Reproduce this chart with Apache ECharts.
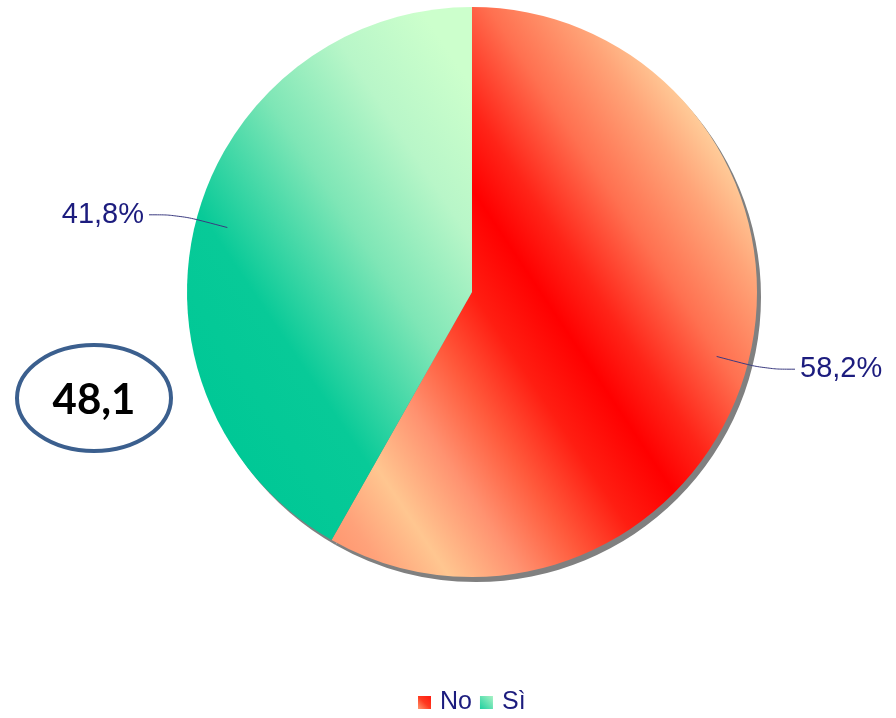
<!DOCTYPE html>
<html>
<head>
<meta charset="utf-8">
<script src="https://cdn.jsdelivr.net/npm/echarts@6/dist/echarts.min.js"></script>
<style>
  html, body { margin: 0; padding: 0; background: #ffffff; }
  #chart { width: 896px; height: 718px; }
</style>
</head>
<body>
<div id="chart"></div>
<script>
// Survey answers and their shares (percent)
const categories = ['No', 'Sì'];
const shares = [58.2, 41.8];
const badgeText = '48,1';

// Pie geometry
const CX = 472, CY = 292, R = 285;
const LABEL_R = 253;

// Diagonal gradient axis running from lower-left to upper-right of the disc
const DX = 0.832, DY = -0.555;
function discGradient(stops) {
  return new echarts.graphic.LinearGradient(
    CX - R * DX, CY - R * DY, CX + R * DX, CY + R * DY,
    stops, true
  );
}

const noFill = discGradient([
  { offset: 0.00, color: '#ff8c66' },
  { offset: 0.10, color: '#ffa27a' },
  { offset: 0.19, color: '#ffc690' },
  { offset: 0.30, color: '#ff9270' },
  { offset: 0.40, color: '#ff5a3c' },
  { offset: 0.50, color: '#ff1e12' },
  { offset: 0.60, color: '#ff0000' },
  { offset: 0.68, color: '#ff2418' },
  { offset: 0.80, color: '#ff7050' },
  { offset: 0.92, color: '#ffa478' },
  { offset: 1.00, color: '#ffcc99' }
]);
const siFill = discGradient([
  { offset: 0.00, color: '#00c896' },
  { offset: 0.18, color: '#08ca98' },
  { offset: 0.39, color: '#7ee6b6' },
  { offset: 0.55, color: '#b8f6c8' },
  { offset: 0.70, color: '#ccffcc' },
  { offset: 1.00, color: '#ccffcc' }
]);
const sliceFills = [noFill, siFill];

// Small swatches for the legend
const legendFills = [
  new echarts.graphic.LinearGradient(1, 0, 0, 1, [
    { offset: 0, color: '#ff1a10' }, { offset: 0.5, color: '#ff3a20' }, { offset: 1, color: '#ff9a70' }
  ]),
  new echarts.graphic.LinearGradient(1, 0, 0, 1, [
    { offset: 0, color: '#a8f2c4' }, { offset: 1, color: '#20d0a0' }
  ])
];

const fmt = v => v.toFixed(1).replace('.', ',') + '%';
const navy = '#1c1c7e';

const chart = echarts.init(document.getElementById('chart'), null, { renderer: 'canvas' });

chart.setOption({
  animation: false,
  backgroundColor: '#ffffff',
  legend: {
    left: 418,
    top: 690,
    padding: 0,
    itemWidth: 13,
    itemHeight: 13,
    itemGap: 8,
    icon: 'rect',
    selectedMode: false,
    textStyle: { fontFamily: 'Liberation Sans', fontSize: 25, color: navy, padding: [0, 0, 0, 4] },
    data: categories.map((name, i) => ({ name, itemStyle: { color: legendFills[i] } }))
  },
  series: [
    {
      // solid drop shadow under the disc
      type: 'pie',
      silent: true,
      z: 1,
      center: [CX + 4, CY + 5],
      radius: R,
      startAngle: 90,
      label: { show: false },
      labelLine: { show: false },
      emphasis: { disabled: true },
      itemStyle: { color: '#808080' },
      data: categories.map((name, i) => ({ name, value: shares[i] }))
    },
    {
      type: 'pie',
      silent: true,
      z: 2,
      center: [CX, CY],
      radius: R,
      startAngle: 90,
      label: { show: false },
      labelLine: { show: false },
      emphasis: { disabled: true },
      data: categories.map((name, i) => ({
        name, value: shares[i], itemStyle: { color: sliceFills[i] }
      }))
    },
    {
      // percentage labels, with leader lines starting inside the slices
      type: 'pie',
      silent: true,
      z: 5,
      center: [CX, CY],
      radius: LABEL_R,
      startAngle: 90,
      avoidLabelOverlap: false,
      emphasis: { disabled: true },
      itemStyle: { color: 'rgba(0,0,0,0)' },
      label: {
        show: true,
        position: 'outside',
        formatter: p => fmt(p.value),
        fontFamily: 'Liberation Sans',
        fontSize: 29,
        color: navy,
        distanceToLabelLine: 5
      },
      labelLine: {
        show: true,
        length: 50,
        length2: 30,
        smooth: 0.4,
        lineStyle: { color: '#3a3a80', width: 1 }
      },
      data: categories.map((name, i) => ({ name, value: shares[i] }))
    }
  ],
  graphic: [
    {
      type: 'ellipse',
      shape: { cx: 94, cy: 398, rx: 77, ry: 53 },
      style: { fill: '#ffffff', stroke: '#3b5f8e', lineWidth: 4 },
      z: 10
    },
    {
      type: 'text',
      x: 94,
      y: 400,
      style: {
        text: badgeText,
        fontFamily: 'Lato',
        fontWeight: 'bold',
        fontSize: 42,
        fill: '#000000',
        align: 'center',
        verticalAlign: 'middle'
      },
      z: 11
    }
  ]
});
</script>
</body>
</html>
